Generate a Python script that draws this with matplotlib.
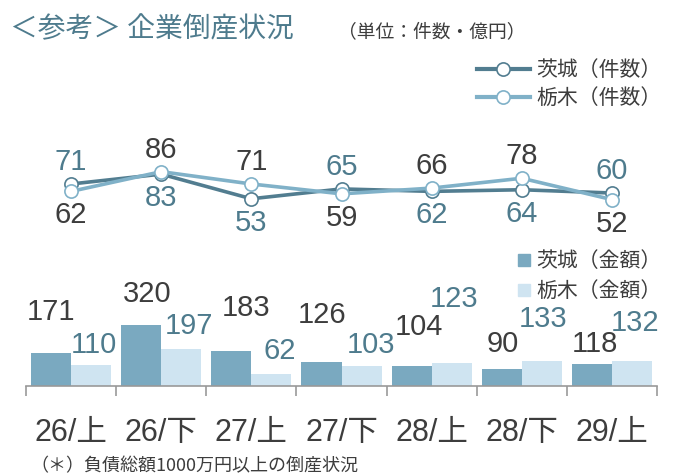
import matplotlib
matplotlib.use('Agg')
import matplotlib.pyplot as plt
import numpy as np

# データ
categories = ['26/上', '26/下', '27/上', '27/下', '28/上', '28/下', '29/上']
ibaraki_count = [71, 83, 53, 65, 62, 64, 60]
tochigi_count = [62, 86, 71, 59, 66, 78, 52]
ibaraki_amount = [171, 320, 183, 126, 104, 90, 118]
tochigi_amount = [110, 197, 62, 103, 123, 133, 132]

# 色
c_line_dark = '#527d90'
c_line_light = '#80b1c8'
c_bar_dark = '#7aa9c0'
c_bar_light = '#cfe4f1'
c_teal = '#4e7b8d'
c_text = '#3d3d3d'

jp = ['Noto Sans CJK JP', 'DejaVu Sans']
num = ['Liberation Sans', 'Noto Sans CJK JP']

W, H = 677, 477
fig = plt.figure(figsize=(W / 100, H / 100), dpi=100)

def px_box(left, top, width, height):
    return [left / W, 1 - (top + height) / H, width / W, height / H]

x = np.arange(len(categories))

# 棒グラフ (金額)
ax_b = fig.add_axes(px_box(26, 230, 631, 157))
bw = 40 / 90
ax_b.bar(x - bw / 2, ibaraki_amount, width=bw, color=c_bar_dark, zorder=2)
ax_b.bar(x + bw / 2, tochigi_amount, width=bw, color=c_bar_light, zorder=2)
ax_b.set_xlim(-0.5, len(categories) - 0.5)
ax_b.set_ylim(0, 826)
for s in ['top', 'right', 'left']:
    ax_b.spines[s].set_visible(False)
ax_b.spines['bottom'].set_color('#999999')
ax_b.spines['bottom'].set_linewidth(1.2)
ax_b.set_yticks([])
ax_b.set_xticks(np.arange(-0.5, len(categories)))
ax_b.set_xticklabels([])
ax_b.tick_params(axis='x', which='major', direction='out', length=7, width=1.2, color='#999999')
ax_b.set_xticks(x, minor=True)
ax_b.set_xticklabels(categories, minor=True, fontsize=22, color=c_text, family=num)
ax_b.tick_params(axis='x', which='minor', length=0, pad=22)
ax_b.patch.set_alpha(0)

# 棒ラベルの位置調整 (px)
dark_off = [(0, 42), (6, 32), (15, 44), (1, 48), (7, 40), (1, 26), (3, 21)]
light_off = [(3, 21), (8, 24), (8, 24), (9, 22), (2, 65), (1, 43), (3, 39)]
for i in range(len(categories)):
    ax_b.annotate(str(ibaraki_amount[i]), (x[i] - bw / 2, ibaraki_amount[i]),
                  xytext=dark_off[i], textcoords='offset pixels', ha='center', va='center',
                  fontsize=21, color=c_text, family=num)
    ax_b.annotate(str(tochigi_amount[i]), (x[i] + bw / 2, tochigi_amount[i]),
                  xytext=light_off[i], textcoords='offset pixels', ha='center', va='center',
                  fontsize=21, color=c_teal, family=num)

# 折れ線 (件数)
ax_l = fig.add_axes(px_box(26, 140, 631, 100))
ax_l.set_xlim(-0.5, len(categories) - 0.5)
ax_l.set_ylim(4, 125.8)
ax_l.axis('off')
ax_l.plot(x, ibaraki_count, color=c_line_dark, lw=2.6, marker='o', ms=9.5,
          mfc='white', mec=c_line_dark, mew=1.2, zorder=3)
ax_l.plot(x, tochigi_count, color=c_line_light, lw=2.6, marker='o', ms=9.5,
          mfc='white', mec=c_line_light, mew=1.2, zorder=4)
for i in range(len(categories)):
    a, b = ibaraki_count[i], tochigi_count[i]
    da, db = (23, -23) if a >= b else (-23, 23)
    ax_l.annotate(str(a), (x[i], a), xytext=(0, da), textcoords='offset pixels',
                  ha='center', va='center', fontsize=21, color=c_teal, family=num)
    ax_l.annotate(str(b), (x[i], b), xytext=(0, db), textcoords='offset pixels',
                  ha='center', va='center', fontsize=21, color=c_text, family=num)

# タイトル・凡例・注記 (ピクセル座標)
ov = fig.add_axes([0, 0, 1, 1])
ov.set_xlim(0, W)
ov.set_ylim(H, 0)
ov.axis('off')
ov.patch.set_alpha(0)

ov.text(10, 29, '＜参考＞ 企業倒産状況', fontsize=20, color=c_teal, family=jp,
        ha='left', va='center')
ov.text(338, 32, '（単位：件数・億円）', fontsize=13.5, color=c_text, family=jp,
        ha='left', va='center')

for yy, col, lab in [(70, c_line_dark, '茨城（件数）'), (98, c_line_light, '栃木（件数）')]:
    ov.plot([477, 530], [yy, yy], color=col, lw=3)
    ov.plot([503], [yy], marker='o', ms=9.5, mfc='white', mec=col, mew=1.2)
    ov.text(536, yy, lab, fontsize=15, color=c_text, family=jp, ha='left', va='center')

for yy, col, lab in [(261, c_bar_dark, '茨城（金額）'), (291, c_bar_light, '栃木（金額）')]:
    ov.plot([524], [yy], marker='s', ms=9, color=col, mec=col)
    ov.text(536, yy, lab, fontsize=15, color=c_text, family=jp, ha='left', va='center')

ov.text(30, 466, '（＊）負債総額1000万円以上の倒産状況', fontsize=13, color=c_text,
        family=jp, ha='left', va='center')

fig.savefig('out.png', dpi=100)
